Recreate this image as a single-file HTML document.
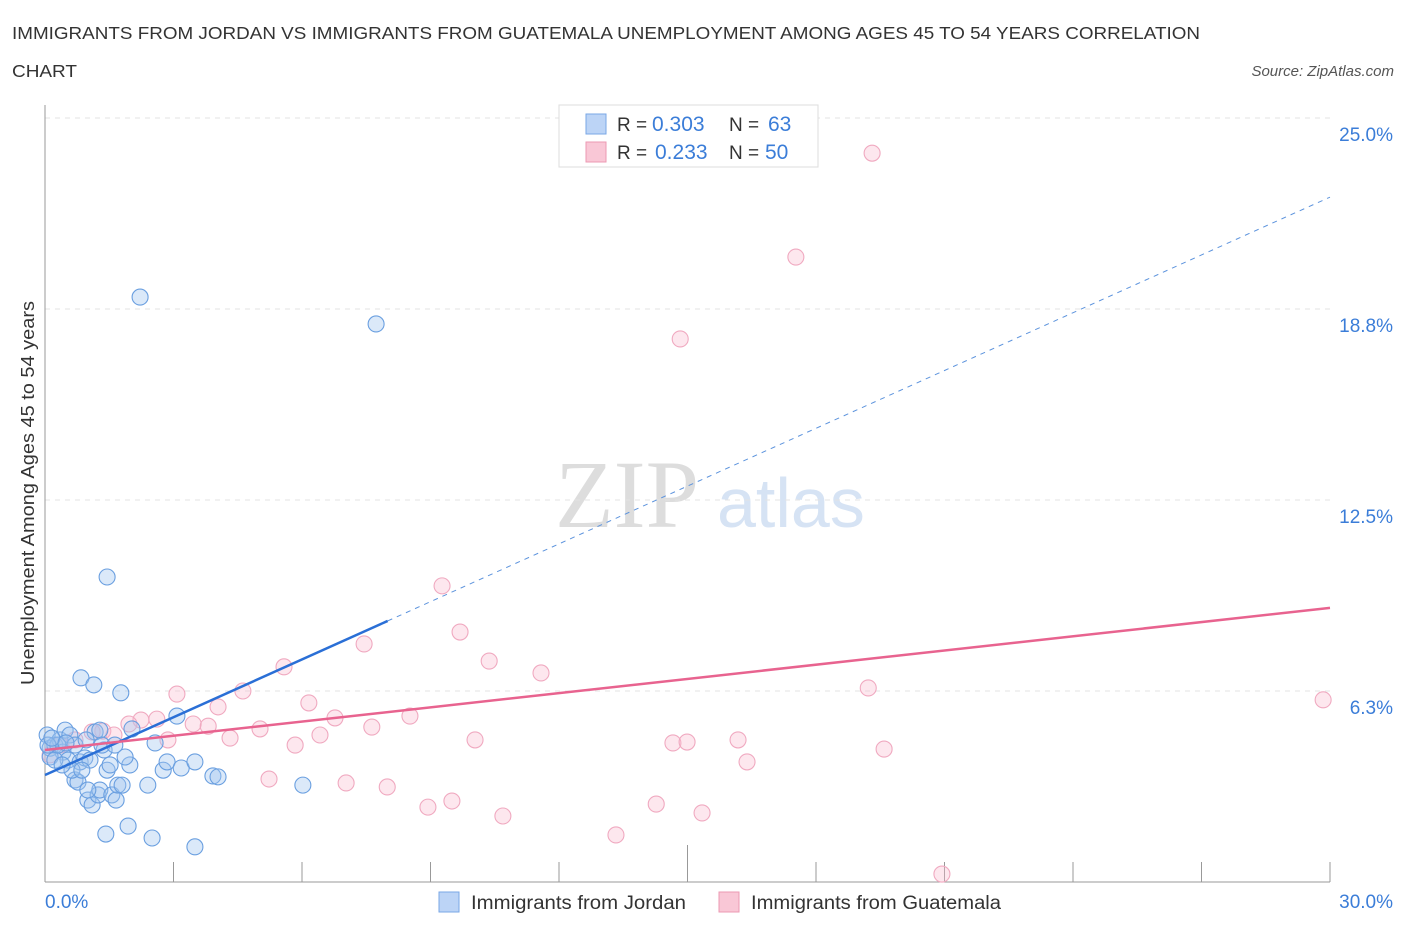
<!DOCTYPE html>
<html><head><meta charset="utf-8"><style>
body{margin:0;background:#fff;font-family:"Liberation Sans",sans-serif;}
#c{position:relative;width:1406px;height:930px;overflow:hidden;}
</style></head><body>
<div id="c">
<svg id="s" width="1406" height="930">
<text x="12" y="39" font-size="17.5" fill="#333" textLength="1188" lengthAdjust="spacingAndGlyphs">IMMIGRANTS FROM JORDAN VS IMMIGRANTS FROM GUATEMALA UNEMPLOYMENT AMONG AGES 45 TO 54 YEARS CORRELATION</text>
<text x="12" y="77" font-size="17.5" fill="#333" textLength="65" lengthAdjust="spacingAndGlyphs">CHART</text>
<text x="1394" y="76" font-size="15" fill="#555" font-style="italic" text-anchor="end">Source: ZipAtlas.com</text>
<text x="34" y="493" font-size="18" fill="#333" text-anchor="middle" textLength="384" lengthAdjust="spacingAndGlyphs" transform="rotate(-90 34 493)">Unemployment Among Ages 45 to 54 years</text>
<text x="555" y="527" font-size="96" fill="#ddd" font-family="Liberation Serif,serif">ZIP</text>
<text x="717" y="527" font-size="70" fill="#d6e3f4">atlas</text>
<g id="grid"></g><g id="axes"></g><g id="pts"></g><g id="trend"></g>
<g>
<rect x="559" y="105" width="259" height="62" fill="#fff" stroke="#ddd"/>
<rect x="586" y="114" width="20" height="20" fill="#bcd4f6" stroke="#7aa7e6"/>
<rect x="586" y="142" width="20" height="20" fill="#f9c7d6" stroke="#ec9ab3"/>
<g font-size="19">
<text x="617" y="131" fill="#333">R =</text><text x="652" y="131" fill="#3b7dd8" font-size="21">0.303</text>
<text x="729" y="131" fill="#333">N =</text><text x="768" y="131" fill="#3b7dd8" font-size="21">63</text></g>
<g font-size="19">
<text x="617" y="159" fill="#333">R =</text><text x="655" y="159" fill="#3b7dd8" font-size="21">0.233</text>
<text x="729" y="159" fill="#333">N =</text><text x="765" y="159" fill="#3b7dd8" font-size="21">50</text></g>
</g>
<g>
<rect x="439" y="892" width="20" height="20" fill="#bcd4f6" stroke="#7aa7e6"/>
<text x="471" y="909" font-size="19" fill="#333" textLength="215" lengthAdjust="spacingAndGlyphs">Immigrants from Jordan</text>
<rect x="719" y="892" width="20" height="20" fill="#f9c7d6" stroke="#ec9ab3"/>
<text x="751" y="909" font-size="19" fill="#333" textLength="250" lengthAdjust="spacingAndGlyphs">Immigrants from Guatemala</text>
</g>
</svg>
</div>
<script>
const jordanX=[2.22,7.73,1.45,0.84,1.14,1.77,3.08,2.03,2.57,0.05,0.12,0.23,0.35,0.47,0.58,0.42,0.54,0.70,0.82,0.93,1.05,1.17,1.28,1.38,1.45,1.52,0.70,0.77,1.00,1.10,1.24,1.28,1.56,1.66,1.70,1.80,1.98,1.87,2.40,2.76,2.85,3.18,3.50,3.92,4.04,6.02,1.42,1.94,2.50,3.50,0.12,0.23,0.30,0.07,0.63,0.86,0.96,1.00,1.33,1.63,0.40,0.16,0.49];
const jordanY=[19.14,18.26,9.98,6.68,6.45,6.19,5.43,5.01,4.55,4.81,4.38,4.48,4.65,4.97,4.81,4.25,3.99,4.48,3.93,4.06,3.99,4.91,4.97,4.32,3.66,3.83,3.34,3.27,2.68,2.52,2.85,3.01,2.85,2.68,3.17,3.17,3.83,4.09,3.17,3.66,3.93,3.73,3.93,3.47,3.44,3.17,1.57,1.83,1.44,1.15,4.09,3.99,4.48,4.48,3.66,3.66,4.65,3.01,4.48,4.48,3.83,4.71,4.55];
const guatX=[19.31,17.53,14.83,9.27,9.69,7.45,10.37,5.58,11.58,19.22,3.08,4.62,29.84,4.04,6.16,2.61,6.77,2.24,1.96,3.46,3.81,5.02,7.63,8.52,1.35,1.10,1.61,6.42,4.32,2.87,5.84,10.04,14.66,14.99,16.18,19.59,16.39,5.23,7.03,7.99,9.50,8.94,14.27,15.34,10.69,13.33,20.94,0.35,0.70,0.12];
const guatY=[23.85,20.45,17.77,9.69,8.18,7.79,7.23,7.04,6.84,6.35,6.15,6.25,5.96,5.73,5.86,5.33,5.37,5.30,5.17,5.17,5.10,5.01,5.07,5.43,4.94,4.91,4.81,4.81,4.71,4.65,4.48,4.65,4.55,4.58,4.65,4.35,3.93,3.37,3.24,3.11,2.65,2.45,2.55,2.26,2.16,1.54,0.26,4.48,4.65,4.16];
const yTicks=[25.0,18.8,12.5,6.3];
const yTickLabels=["25.0%","18.8%","12.5%","6.3%"];
const jordanTrend=[3.50,22.41];
const guatTrend=[4.32,8.97];
const NS="http://www.w3.org/2000/svg";
const X=v=>45+v*(1285/30), Y=v=>882-v*(191/6.25);
function mk(t,a,p){const e=document.createElementNS(NS,t);for(const k in a)e.setAttribute(k,a[k]);p.appendChild(e);return e;}
const grid=document.getElementById('grid'),axes=document.getElementById('axes');
const gy=[25,18.75,12.5,6.25];
yTicks.forEach((t,i)=>{const y=Y(gy[i]);
 const l=mk('line',{x1:45,x2:1330,y1:y,y2:y,stroke:'#e3e3e3','stroke-dasharray':'5,5'},grid);
 
 
 const tx=mk('text',{x:1393,y:y+23,'font-size':19,fill:'#3b7dd8','text-anchor':'end'},grid);
 tx.textContent=yTickLabels[i];
 
 
});
mk('line',{x1:45,x2:45,y1:105,y2:882,stroke:'#999'},axes);
mk('line',{x1:45,x2:1330,y1:882,y2:882,stroke:'#999'},axes);
for(let i=0;i<=10;i++){const x=X(i*3);const t=mk('line',{x1:x,x2:x,y1:i==5?845:862,y2:882,stroke:'#999'},axes);
 
 }
const xl0=mk('text',{x:45,y:908,'font-size':19,fill:'#3b7dd8'},axes);xl0.textContent='0.0%';


const xl1=mk('text',{x:1393,y:908,'font-size':19,fill:'#3b7dd8','text-anchor':'end'},axes);xl1.textContent='30.0%';


const pts=document.getElementById('pts');
guatX.forEach((v,i)=>{const c=mk('circle',{cx:X(v),cy:Y(guatY[i]),r:8,fill:'rgba(248,185,205,0.35)',stroke:'#f0a9c0','stroke-width':1.1},pts);
 
 });
jordanX.forEach((v,i)=>{const c=mk('circle',{cx:X(v),cy:Y(jordanY[i]),r:8,fill:'rgba(160,196,240,0.38)',stroke:'#6a9fe0','stroke-width':1.1},pts);
 
 });
const tr=document.getElementById('trend');
const jy=x=>jordanTrend[0]+(jordanTrend[1]-jordanTrend[0])*x/30;
const a=mk('line',{x1:X(0),y1:Y(jy(0)),x2:X(8),y2:Y(jy(8)),stroke:'#2a6fd6','stroke-width':2.5},tr);


const b=mk('line',{x1:X(8),y1:Y(jy(8)),x2:X(30),y2:Y(jy(30)),stroke:'#5c93dd','stroke-width':1,'stroke-dasharray':'5,5'},tr);


const g=mk('line',{x1:X(0),y1:Y(guatTrend[0]),x2:X(30),y2:Y(guatTrend[1]),stroke:'#e8638f','stroke-width':2.5},tr);


</script>
</body></html>
